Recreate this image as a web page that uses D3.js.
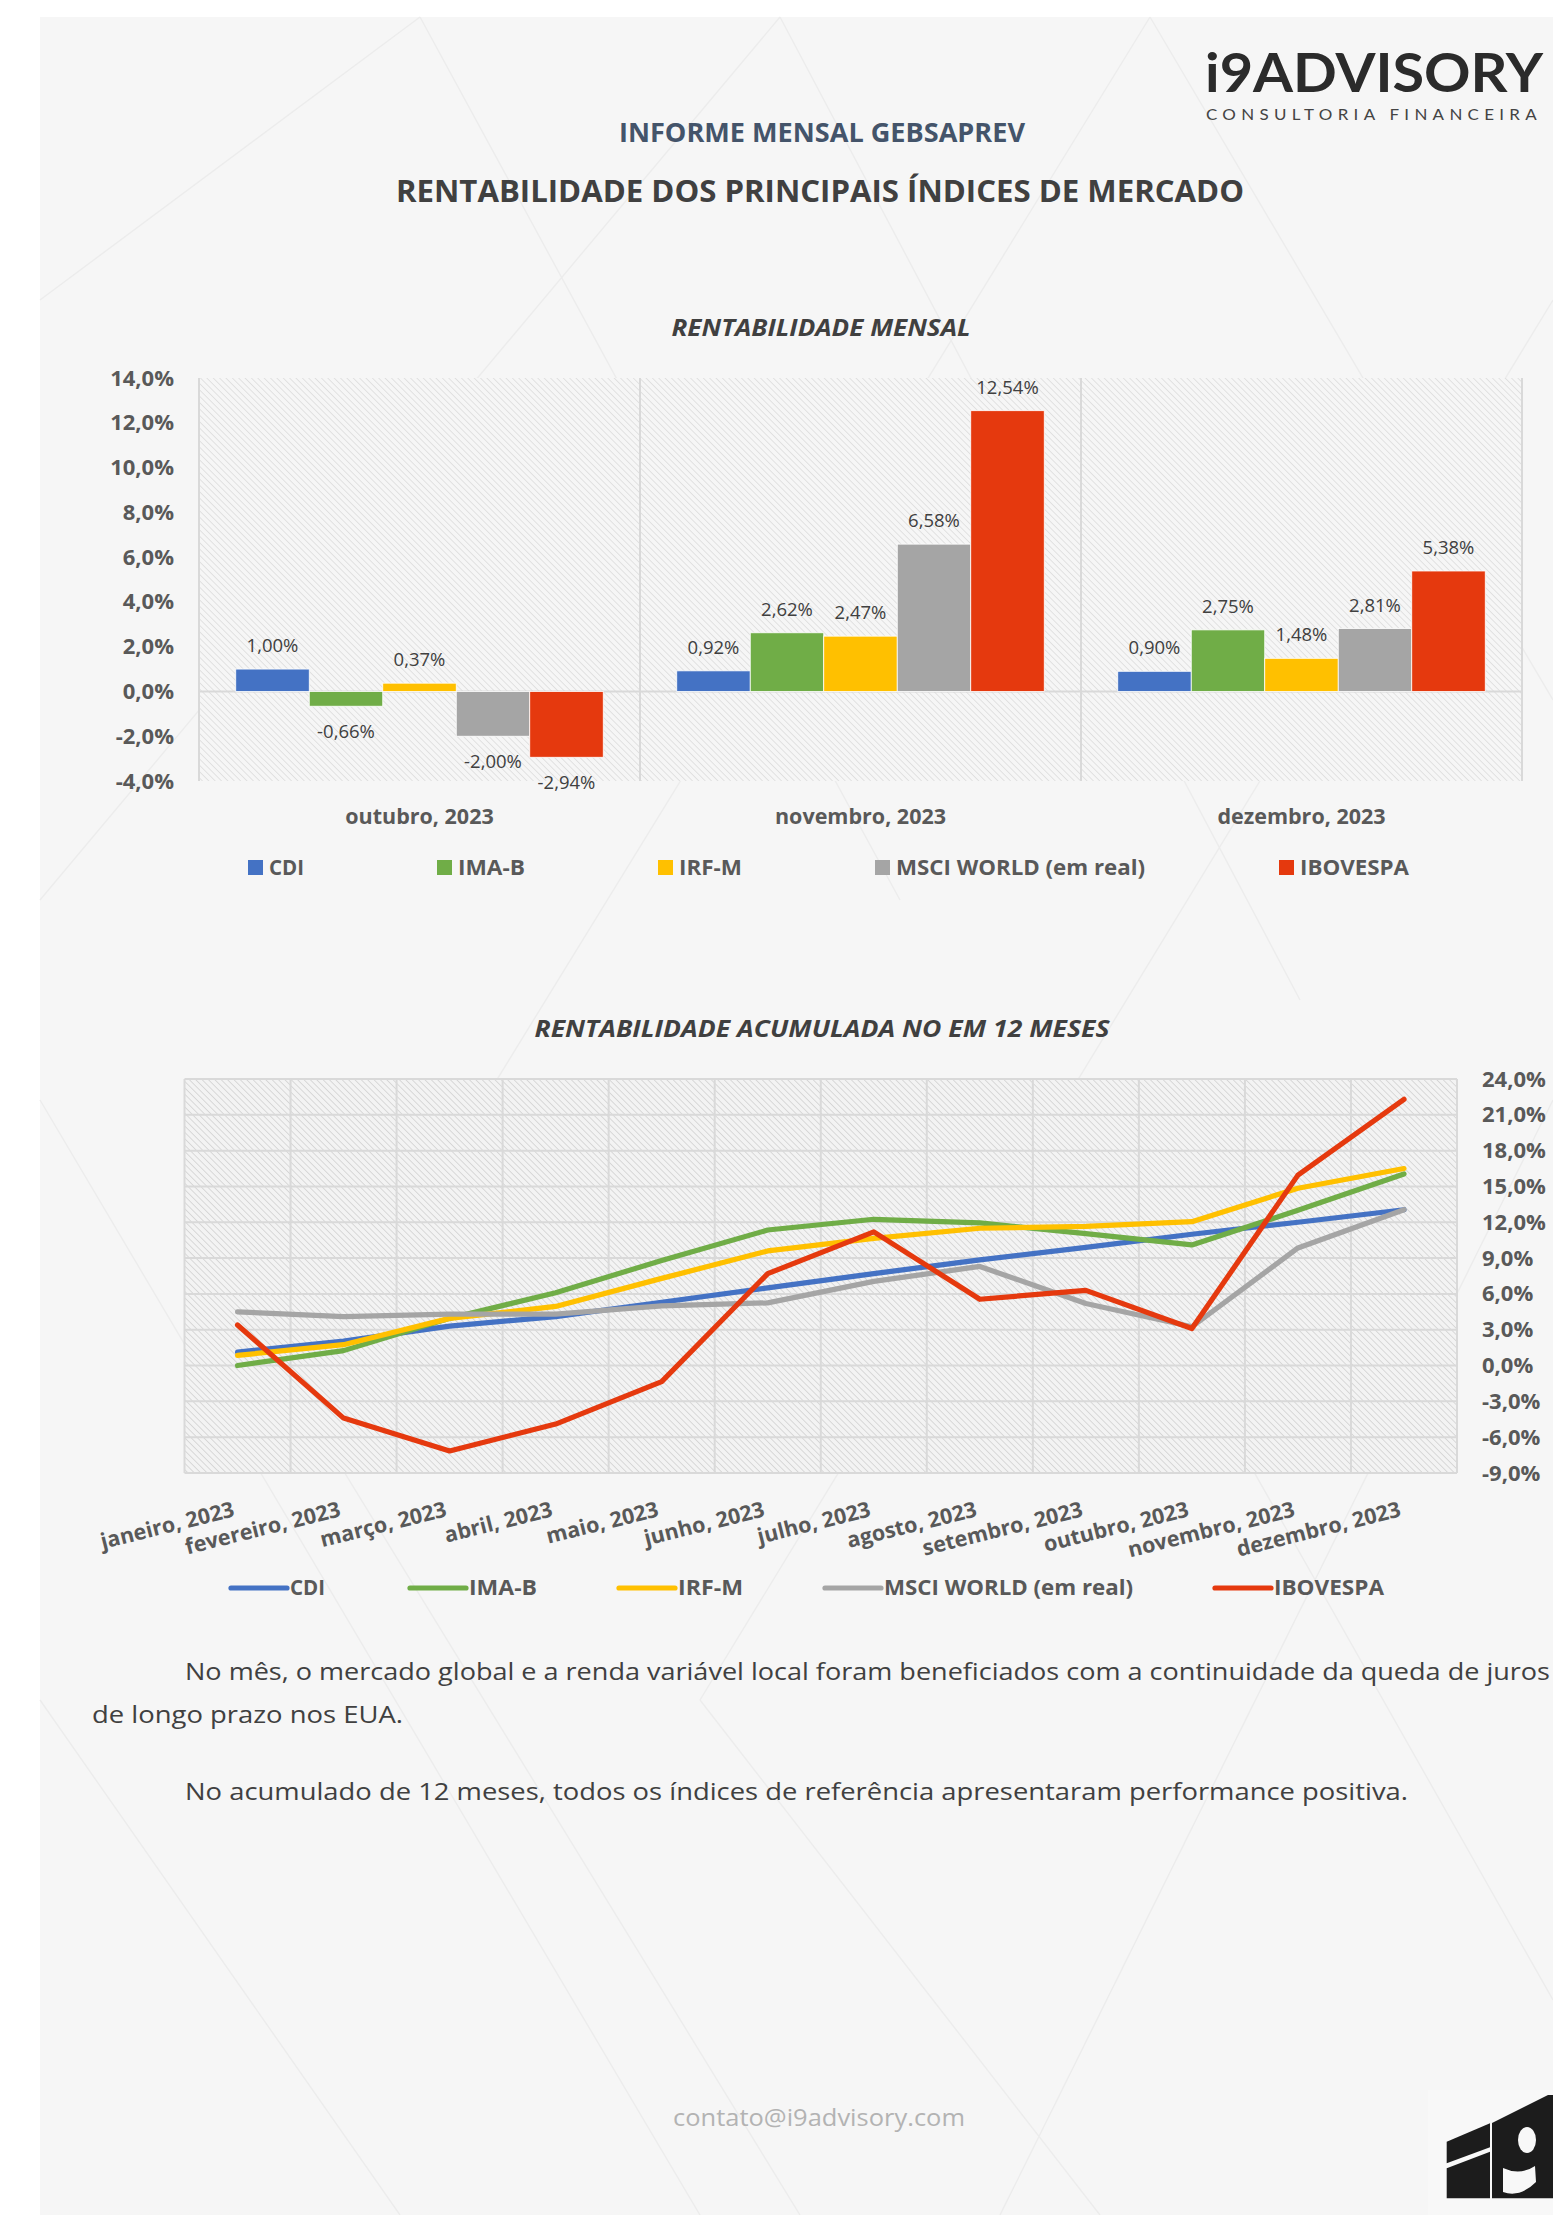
<!DOCTYPE html>
<html><head><meta charset="utf-8">
<script src="https://cdn.jsdelivr.net/npm/d3@7"></script>
<style>
html,body{margin:0;padding:0;background:#fff;}
svg{display:block;}
text{font-family:"Open Sans",sans-serif;}
</style></head><body>
<svg id="page" width="1553" height="2215"></svg>
<script>
// ---------- DATA ----------
const series = ["CDI","IMA-B","IRF-M","MSCI WORLD (em real)","IBOVESPA"];
const seriesColors = ["#4472C4","#70AD47","#FFC000","#A5A5A5","#E5390E"];

const barCategories = ["outubro, 2023","novembro, 2023","dezembro, 2023"];
const barCDI  = [1.00, 0.92, 0.90];
const barIMAB = [-0.66, 2.62, 2.75];
const barIRFM = [0.37, 2.47, 1.48];
const barMSCI = [-2.00, 6.58, 2.81];
const barIBOV = [-2.94, 12.54, 5.38];
const barTicks = [-4,-2,0,2,4,6,8,10,12,14];

const months = ["janeiro, 2023","fevereiro, 2023","março, 2023","abril, 2023","maio, 2023","junho, 2023",
                "julho, 2023","agosto, 2023","setembro, 2023","outubro, 2023","novembro, 2023","dezembro, 2023"];
const accCDI  = [1.12, 2.05, 3.30, 4.10, 5.30, 6.50, 7.70, 8.85, 9.90, 11.00, 12.00, 13.05];
const accIMAB = [0.00, 1.25, 3.95, 6.10, 8.80, 11.35, 12.25, 11.95, 11.05, 10.10, 13.00, 16.05];
const accIRFM = [0.85, 1.75, 3.95, 4.95, 7.30, 9.60, 10.65, 11.50, 11.65, 12.05, 14.85, 16.50];
const accMSCI = [4.50, 4.10, 4.30, 4.30, 5.00, 5.25, 7.05, 8.30, 5.20, 3.25, 9.85, 13.05];
const accIBOV = [3.40, -4.40, -7.15, -4.90, -1.35, 7.70, 11.20, 5.55, 6.30, 3.10, 15.95, 22.30];
const lineTicks = [-9,-6,-3,0,3,6,9,12,15,18,21,24];

const barValues = [barCDI, barIMAB, barIRFM, barMSCI, barIBOV];
const lineValues = [accCDI, accIMAB, accIRFM, accMSCI, accIBOV];

const pctAxis = d => d3.format(".1f")(d).replace("\u2212", "-").replace(".", ",") + "%";
const pctLabel = d => d3.format(".2f")(d).replace("\u2212", "-").replace(".", ",") + "%";

// ---------- PAGE ----------
const svg = d3.select("#page");
const defs = svg.append("defs");
function hatch(id, bg, fg, size, sw) {
  const p = defs.append("pattern").attr("id", id).attr("patternUnits","userSpaceOnUse")
    .attr("width", size).attr("height", size).attr("patternTransform","rotate(-45)");
  p.append("rect").attr("width", size).attr("height", size).attr("fill", bg);
  p.append("line").attr("x1",0).attr("y1",0).attr("x2",0).attr("y2",size).attr("stroke",fg).attr("stroke-width",sw);
}
hatch("hatchBar", "#f6f6f6", "#dcdcdc", 4.5, 1.6);
hatch("hatchLine", "#f3f3f3", "#d3d3d3", 4.5, 1.7);

svg.append("rect").attr("width",1553).attr("height",2215).attr("fill","#ffffff");
svg.append("rect").attr("x",40).attr("y",17).attr("width",1513).attr("height",2198).attr("fill","#f6f6f6");

// faint decorative lattice
const deco = svg.append("g").attr("stroke","#ececec").attr("stroke-width",1.4).attr("fill","none");
[[40,300,420,17],[40,900,780,17],[300,1400,1150,17],[700,1700,1553,300],[1000,2215,1553,1100],
 [420,17,900,900],[780,17,1300,1000],[1150,17,1553,700],[40,1100,700,2215],[40,1700,400,2215],
 [300,1400,800,2215],[700,1700,1100,2215],[1100,1200,1553,2000]].forEach(l=>{
  deco.append("line").attr("x1",l[0]).attr("y1",l[1]).attr("x2",l[2]).attr("y2",l[3]);
});

function txt(g, x, y, s, o) {
  const t = g.append("text").attr("x",x).attr("y",y).text(s)
    .attr("font-size", o.size).attr("font-weight", o.weight || 400)
    .attr("fill", o.color || "#404040").attr("text-anchor", o.anchor || "start");
  if (o.italic) t.attr("font-style","italic");
  if (o.ls) t.attr("letter-spacing", o.ls);
  if (o.width) t.attr("textLength", o.width).attr("lengthAdjust","spacingAndGlyphs");
  if (o.family) t.style("font-family", o.family);
  return t;
}

// ---------- HEADER ----------
const head = svg.append("g");
txt(head, 1205, 92, "i9ADVISORY", {size:53, weight:700, color:"#2b2b2b", width:338, family:"Lato"});
txt(head, 1206, 120, "CONSULTORIA FINANCEIRA", {size:16, weight:400, color:"#444444", width:336, family:"Lato", ls:5});
txt(head, 822, 142, "INFORME MENSAL GEBSAPREV", {size:27, weight:700, color:"#44546A", anchor:"middle", width:406});
txt(head, 820, 202, "RENTABILIDADE DOS PRINCIPAIS ÍNDICES DE MERCADO", {size:30, weight:700, color:"#404040", anchor:"middle", width:848});

// ---------- BAR CHART ----------
const bc = svg.append("g");
txt(bc, 821, 336, "RENTABILIDADE MENSAL", {size:24, weight:700, italic:true, color:"#404040", anchor:"middle", width:299});

const bx0 = d3.scaleBand().domain(barCategories).range([199, 1522]).padding(0);
const bx1 = d3.scaleBand().domain(series).range([0, bx0.bandwidth()]).paddingInner(0).paddingOuter(0.5);
const by = d3.scaleLinear().domain([-4, 14]).range([781, 378]);

bc.append("rect").attr("x",199).attr("y",by(14)).attr("width",1522-199).attr("height",by(-4)-by(14)).attr("fill","url(#hatchBar)");
bc.append("line").attr("x1",199).attr("x2",1522).attr("y1",by(0)).attr("y2",by(0)).attr("stroke","#d9d9d9").attr("stroke-width",2);
const sepX = [199, ...barCategories.map(c => bx0(c) + bx0.bandwidth())];
bc.selectAll(".sep").data(sepX).enter().append("line")
  .attr("x1",d=>d).attr("x2",d=>d).attr("y1",by(14)).attr("y2",by(-4)).attr("stroke","#d9d9d9").attr("stroke-width",2);

const yAxB = d3.axisLeft(by).tickValues(barTicks).tickSize(0).tickPadding(25).tickFormat(pctAxis);
const gyb = bc.append("g").attr("transform","translate(199,0)").call(yAxB);
gyb.select(".domain").remove();
gyb.selectAll("text").attr("font-size",22).attr("font-weight",700).attr("fill","#595959").style("font-family","Open Sans");

const barData = [];
barCategories.forEach((c, ci) => series.forEach((s, si) => barData.push({c, s, si, v: barValues[si][ci]})));
bc.selectAll(".bar").data(barData).enter().append("rect")
  .attr("x", d => bx0(d.c) + bx1(d.s))
  .attr("width", bx1.bandwidth())
  .attr("y", d => by(Math.max(0, d.v)))
  .attr("height", d => Math.abs(by(d.v) - by(0)))
  .attr("fill", d => seriesColors[d.si])
  .attr("stroke","#ffffff").attr("stroke-width",0.8);
bc.selectAll(".blab").data(barData).enter().append("text")
  .attr("x", d => bx0(d.c) + bx1(d.s) + bx1.bandwidth()/2)
  .attr("y", d => d.v >= 0 ? by(d.v) - 17 : by(d.v) + 32)
  .attr("text-anchor","middle").attr("font-size",18.5).attr("fill","#404040")
  .text(d => pctLabel(d.v));

bc.selectAll(".bcat").data(barCategories).enter().append("text")
  .attr("x", d => bx0(d) + bx0.bandwidth()/2).attr("y", 824)
  .attr("text-anchor","middle").attr("font-size",21.5).attr("font-weight",700).attr("fill","#595959")
  .text(d => d);

// bar legend
const barLegX = [248, 437, 658, 875, 1279];
const barLegW = [35, 67, 63, 249, 109];
const lgB = bc.append("g");
series.forEach((s, i) => {
  lgB.append("rect").attr("x", barLegX[i]).attr("y", 860).attr("width",15).attr("height",15).attr("fill", seriesColors[i]);
  txt(lgB, barLegX[i] + 21, 875, s, {size:21, weight:700, color:"#595959", width: barLegW[i]});
});

// ---------- LINE CHART ----------
const lc = svg.append("g");
txt(lc, 822, 1037, "RENTABILIDADE ACUMULADA NO EM 12 MESES", {size:24, weight:700, italic:true, color:"#404040", anchor:"middle", width:575});

const lx = d3.scalePoint().domain(months).range([184.5, 1457]).padding(0.5);
const lxBand = d3.scaleBand().domain(months).range([184.5, 1457]);
const ly = d3.scaleLinear().domain([-9, 24]).range([1473, 1079]);

lc.append("rect").attr("x",184.5).attr("y",ly(24)).attr("width",1457-184.5).attr("height",ly(-9)-ly(24)).attr("fill","url(#hatchLine)");
lc.selectAll(".hg").data(lineTicks).enter().append("line")
  .attr("x1",184.5).attr("x2",1457).attr("y1",d=>ly(d)).attr("y2",d=>ly(d)).attr("stroke","#d9d9d9").attr("stroke-width",2);
const vX = [184.5, ...months.map(m => lxBand(m) + lxBand.bandwidth())];
lc.selectAll(".vg").data(vX).enter().append("line")
  .attr("x1",d=>d).attr("x2",d=>d).attr("y1",ly(24)).attr("y2",ly(-9)).attr("stroke","#d9d9d9").attr("stroke-width",2);

const yAxL = d3.axisRight(ly).tickValues(lineTicks).tickSize(0).tickPadding(25).tickFormat(pctAxis);
const gyl = lc.append("g").attr("transform","translate(1457,0)").call(yAxL);
gyl.select(".domain").remove();
gyl.selectAll("text").attr("font-size",22).attr("font-weight",700).attr("fill","#595959").style("font-family","Open Sans");

const lineGen = d3.line().x((d,i) => lx(months[i])).y(d => ly(d));
lineValues.forEach((vals, si) => {
  lc.append("path").datum(vals).attr("d", lineGen).attr("fill","none")
    .attr("stroke", seriesColors[si]).attr("stroke-width",5.2)
    .attr("stroke-linejoin","round").attr("stroke-linecap","round");
});

lc.selectAll(".xl").data(months).enter().append("text")
  .attr("transform", d => `translate(${lx(d) - 2},1516) rotate(-14)`)
  .attr("text-anchor","end").attr("font-size",21.5).attr("font-weight",700).attr("fill","#595959")
  .text(d => d);

// line legend
const lineLegX = [231, 410, 619, 825, 1215];
const lineLegW = [35, 68, 65, 249, 110];
const lgL = lc.append("g");
series.forEach((s, i) => {
  lgL.append("line").attr("x1", lineLegX[i]).attr("x2", lineLegX[i] + 56).attr("y1",1588).attr("y2",1588)
    .attr("stroke", seriesColors[i]).attr("stroke-width",5.2).attr("stroke-linecap","round");
  txt(lgL, lineLegX[i] + 59, 1595, s, {size:21, weight:700, color:"#595959", width: lineLegW[i]});
});

// ---------- TEXT ----------
const body = svg.append("g");
txt(body, 185, 1680, "No mês, o mercado global e a renda variável local foram beneficiados com a continuidade da queda de juros", {size:24.5, color:"#404040", width:1365});
txt(body, 92, 1723, "de longo prazo nos EUA.", {size:24.5, color:"#404040", width:311});
txt(body, 185, 1800, "No acumulado de 12 meses, todos os índices de referência apresentaram performance positiva.", {size:24.5, color:"#404040", width:1223});
txt(body, 819, 2126, "contato@i9advisory.com", {size:23, color:"#b3b3b3", anchor:"middle", width:292});

// bottom-right logo mark
const lg = svg.append("g");
lg.append("rect").attr("x",1428).attr("y",2090).attr("width",125).attr("height",125).attr("fill","#f8f8f8");
lg.append("polygon").attr("points","1446.7,2141.7 1490,2123.3 1490,2147.3 1446.7,2163.3").attr("fill","#1c1c1c");
lg.append("polygon").attr("points","1446.7,2168.3 1490,2151.7 1490,2198.3 1446.7,2198.3").attr("fill","#1c1c1c");
lg.append("polygon").attr("points","1492,2123 1548,2095 1553,2095 1553,2198.3 1492,2198.3").attr("fill","#1c1c1c");
lg.append("ellipse").attr("cx",1527).attr("cy",2140).attr("rx",9).attr("ry",13).attr("fill","#f8f8f8");
lg.append("path").attr("d","M1503,2168 Q1520,2176 1535,2166 L1536,2182 Q1520,2198 1503,2192 Z").attr("fill","#f8f8f8");
</script>
</body></html>
